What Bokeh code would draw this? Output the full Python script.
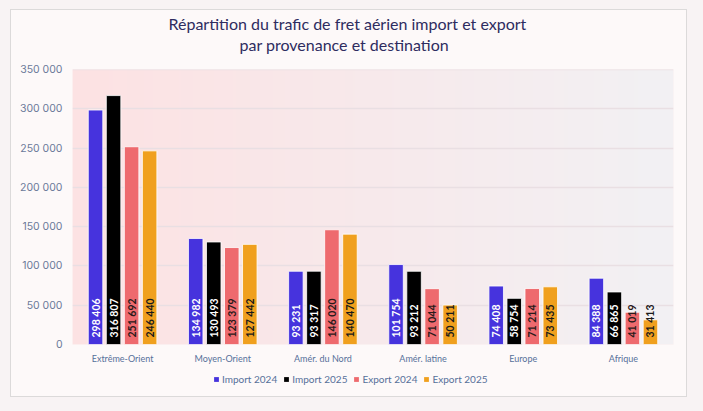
import numpy as np
from math import pi

from bokeh.plotting import figure
from bokeh.layouts import column
from bokeh.models import (ColumnDataSource, FixedTicker, Legend, LegendItem,
                          Title)
from bokeh.transform import dodge
from bokeh.core.properties import value
from bokeh.embed import file_html
from bokeh.resources import INLINE

# --- data -------------------------------------------------------------------
regions = ["Extrême-Orient", "Moyen-Orient", "Amér. du Nord",
           "Amér. latine", "Europe", "Afrique"]
import_2024 = [298406, 134982, 93231, 101754, 74408, 84388]
import_2025 = [316807, 130493, 93317, 93212, 58754, 66865]
export_2024 = [251692, 123379, 146020, 71044, 71214, 41019]
export_2025 = [246440, 127442, 140470, 50211, 73435, 31413]

series_names = ["Import 2024", "Import 2025", "Export 2024", "Export 2025"]
y_ticks = [0, 50000, 100000, 150000, 200000, 250000, 300000, 350000]
y_tick_labels = ["0", "50 000", "100 000", "150 000", "200 000",
                 "250 000", "300 000", "350 000"]

title_line1 = "Répartition du trafic de fret aérien import et export"
title_line2 = "par provenance et destination"

# --- styling ----------------------------------------------------------------
colors = ["#4633dd", "#000000", "#ee6a6e", "#f0a01e"]
label_colors = ["#ffffff", "#ffffff", "#2a1a1a", "#1a1a1a"]
offsets = [-0.27, -0.09, 0.09, 0.27]
bar_width = 0.145
TICK_COLOR = "#6b7a99"
CAT_COLOR = "#56709a"
TITLE_COLOR = "#2e2c60"
CARD_BG = "#fdf9f9"
CARD_W, CARD_H, LEGEND_H = 675, 386, 30


def fmt(v):
    return f"{v:,}".replace(",", " ")


columns = {"region": regions}
keys = ["i24", "i25", "e24", "e25"]
for key, vals in zip(keys, [import_2024, import_2025, export_2024, export_2025]):
    columns[key] = vals
    columns[key + "_lbl"] = [fmt(v) for v in vals]
src = ColumnDataSource(columns)

# ---- main chart ----------------------------------------------------------
p = figure(width=CARD_W, height=CARD_H - LEGEND_H, x_range=regions,
           y_range=(0, 350000), output_backend="svg", toolbar_location=None,
           min_border_left=61, min_border_right=13,
           min_border_top=59, min_border_bottom=21)

p.border_fill_color = CARD_BG
p.background_fill_color = "#fbefef"
p.outline_line_color = None
p.xgrid.grid_line_color = None
p.ygrid.grid_line_color = None

# horizontal pink-to-grey wash behind the bars
n = 600
left_rgb = np.array([253, 226, 227])
right_rgb = np.array([242, 241, 244])
t = np.linspace(0, 1, n)[:, None]
rgb = (left_rgb * (1 - t) + right_rgb * t).astype(np.uint32)
img = np.empty((1, n), dtype=np.uint32)
view = img.view(dtype=np.uint8).reshape((1, n, 4))
view[0, :, 0] = rgb[:, 0]
view[0, :, 1] = rgb[:, 1]
view[0, :, 2] = rgb[:, 2]
view[0, :, 3] = 255
p.image_rgba(image=[img], x=0, y=0, dw=len(regions), dh=y_ticks[-1])

# grid lines
for yt in y_ticks[1:]:
    p.hspan(y=yt, line_color="#e9dfe3", line_width=1.5)

# bars and value labels
for key, off, col, lcol in zip(keys, offsets, colors, label_colors):
    p.vbar(x=dodge("region", off, range=p.x_range), top=key, width=bar_width,
           source=src, fill_color=col, line_color="white", line_width=1,
           line_alpha=0.8)
    p.text(x=dodge("region", off, range=p.x_range), y=0, text=key + "_lbl",
           source=src, angle=pi / 2, text_align="left", text_baseline="middle",
           y_offset=-7, text_font=value("Lato"), text_font_style="bold",
           text_font_size="10.5px", text_color=lcol)

# axes
p.yaxis.ticker = FixedTicker(ticks=y_ticks)
p.yaxis.major_label_overrides = {t_: l_ for t_, l_ in zip(y_ticks, y_tick_labels)}
p.yaxis.axis_line_color = None
p.yaxis.major_tick_line_color = None
p.yaxis.minor_tick_line_color = None
p.yaxis.major_tick_out = 0
p.yaxis.minor_tick_out = 0
p.yaxis.major_label_standoff = 10
p.yaxis.major_label_text_font = "Inter"
p.yaxis.major_label_text_font_size = "10.5px"
p.yaxis.major_label_text_color = TICK_COLOR

p.xaxis.axis_line_color = None
p.xaxis.major_tick_line_color = None
p.xaxis.major_tick_out = 0
p.xaxis.major_label_standoff = 8
p.xaxis.major_label_text_font = "Lato"
p.xaxis.major_label_text_font_size = "9px"
p.xaxis.major_label_text_color = CAT_COLOR

# two-line title above a small gap (panels stack outward from the plot)
p.add_layout(Title(text=" ", text_font_size="1px", standoff=13), "above")
p.add_layout(Title(text=title_line2, align="left", offset=167,
                   text_font="Lato", text_font_size="16px",
                   text_font_style="normal", text_color=TITLE_COLOR,
                   standoff=0), "above")
p.add_layout(Title(text=title_line1, align="left", offset=96,
                   text_font="Lato", text_font_size="16px",
                   text_font_style="normal", text_color=TITLE_COLOR,
                   standoff=0), "above")

# ---- legend strip under the chart ------------------------------------------
lg = figure(width=CARD_W, height=LEGEND_H, x_range=(0, 1), y_range=(0, 1),
            output_backend="svg", toolbar_location=None,
            x_axis_location=None, y_axis_location=None,
            min_border=0, min_border_left=0, min_border_right=0,
            min_border_top=0, min_border_bottom=0)
lg.border_fill_color = CARD_BG
lg.background_fill_color = CARD_BG
lg.outline_line_color = None
lg.grid.grid_line_color = None
# zero-size swatch renderers: only their legend glyphs are visible
swatches = [lg.vbar(x=[0.5], top=[0], bottom=[0], width=0, fill_color=c,
                    line_color=None)
            for c in colors]
legend = Legend(items=[LegendItem(label=n_, renderers=[r])
                       for n_, r in zip(series_names, swatches)],
                orientation="horizontal", location=(141, 11),
                background_fill_alpha=0, border_line_color=None,
                label_text_font="Lato", label_text_font_size="10px",
                label_text_color=CAT_COLOR, glyph_width=6, glyph_height=6,
                label_standoff=3, spacing=6, padding=0, margin=0)
lg.add_layout(legend, "center")

card = column(p, lg, width=CARD_W, height=CARD_H, margin=(10, 0, 0, 11),
              spacing=0,
              styles={"outline": "1px solid #dcdada",
                      "background-color": CARD_BG})
root = column(card, width=703, height=411,
              styles={"background-color": "#f8f3f4"})

open("out.html", "w").write(file_html(root, INLINE))
